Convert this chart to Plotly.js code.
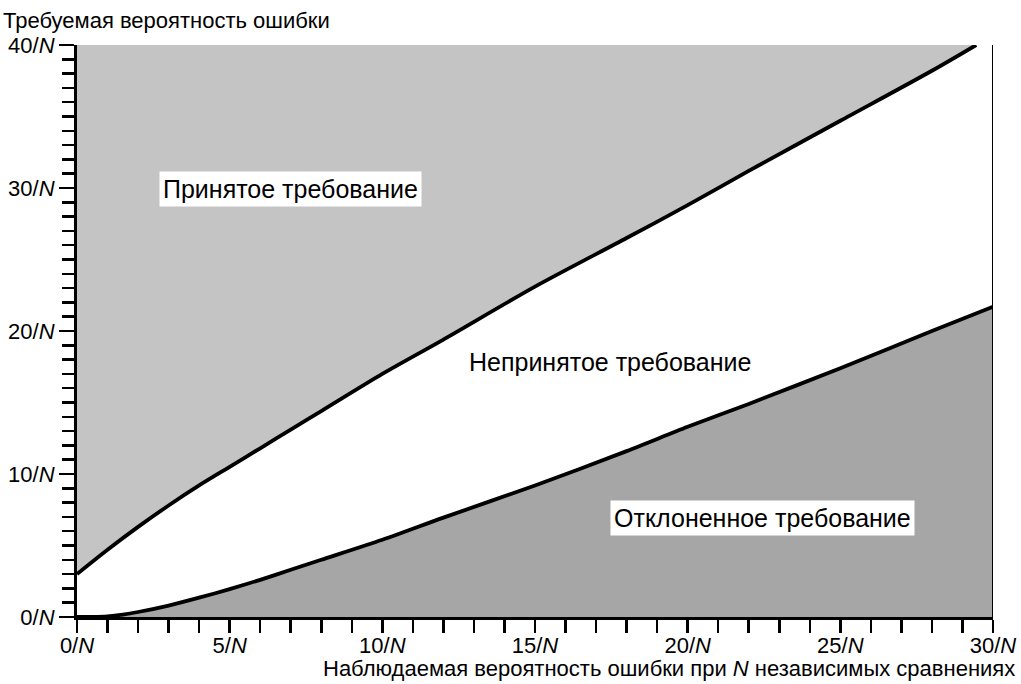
<!DOCTYPE html>
<html>
<head>
<meta charset="utf-8">
<script src="https://cdn.plot.ly/plotly-3.0.1.min.js"></script>
<style>html,body{margin:0;padding:0;background:#fff;}#chart{width:1021px;height:684px;}</style>
</head>
<body>
<div id="chart"></div>
<script>
// Observed error probability (in units of 1/N)
const upperX = [0, 1, 2, 3, 4, 5, 6, 7, 8, 10, 12, 15, 18, 20, 22, 25, 28, 29.45];
// Upper bound curve: above it = accepted requirement
const upperY = [3.0, 4.7, 6.3, 7.8, 9.2, 10.5, 11.8, 13.1, 14.4, 17.0, 19.4, 23.1, 26.5, 28.8, 31.2, 34.7, 38.2, 40.0];
const lowerX = [0, 0.5, 1, 1.5, 2, 3, 4, 5, 6, 7, 8, 10, 12, 15, 18, 20, 22, 25, 28, 30];
// Lower bound curve: below it = rejected requirement
const lowerY = [0, 0.01, 0.05, 0.17, 0.35, 0.8, 1.35, 1.95, 2.6, 3.3, 4.0, 5.4, 6.95, 9.2, 11.6, 13.3, 14.9, 17.4, 20.0, 21.7];

const xTickVals = [0, 5, 10, 15, 20, 25, 30];
const xTickText = ['0/<i>N</i>', '5/<i>N</i>', '10/<i>N</i>', '15/<i>N</i>', '20/<i>N</i>', '25/<i>N</i>', '30/<i>N</i>'];
const yTickVals = [0, 10, 20, 30, 40];
const yTickText = ['0/<i>N</i>', '10/<i>N</i>', '20/<i>N</i>', '30/<i>N</i>', '40/<i>N</i>'];

const regionLabels = ['Принятое требование', 'Непринятое требование', 'Отклоненное требование'];
const yTitle = 'Требуемая вероятность ошибки';
const xTitle = 'Наблюдаемая вероятность ошибки при <i>N</i> независимых сравнениях';

const FONT = 'Liberation Sans, Arial, sans-serif';
const LIGHT = '#c4c4c4';
const DARK = '#a6a6a6';

const traces = [
  {x: [upperX[0], upperX[upperX.length - 1]], y: [40, 40], mode: 'lines', line: {width: 0, color: LIGHT}, hoverinfo: 'skip', showlegend: false},
  {x: upperX, y: upperY, mode: 'lines', fill: 'tonexty', fillcolor: LIGHT, line: {color: '#000', width: 3.8, shape: 'spline', smoothing: 0.8}, showlegend: false},
  {x: lowerX, y: lowerY, mode: 'lines', fill: 'tozeroy', fillcolor: DARK, line: {color: '#000', width: 3.8, shape: 'spline', smoothing: 0.8}, showlegend: false}
];

const layout = {
  width: 1021, height: 684,
  margin: {l: 77, r: 28, t: 45, b: 67},
  paper_bgcolor: '#fff', plot_bgcolor: '#fff',
  font: {family: FONT, color: '#000', size: 22},
  showlegend: false,
  title: {text: yTitle, x: 3 / 1021, xanchor: 'left', xref: 'container', y: 1 - 20 / 684, yanchor: 'middle', yref: 'container', font: {family: FONT, size: 22, color: '#000'}},
  xaxis: {
    range: [0, 30], showgrid: false, zeroline: false,
    showline: true, linecolor: '#000', linewidth: 3,
    tickvals: xTickVals, ticktext: xTickText,
    ticks: 'outside', ticklen: 13, tickwidth: 2.5, tickcolor: '#000',
    ticklabelstandoff: -6,
    minor: {dtick: 1, tick0: 0, ticks: 'outside', ticklen: 13, tickwidth: 2.5, tickcolor: '#000', showgrid: false},
    tickfont: {family: FONT, size: 22}
  },
  yaxis: {
    range: [0, 40], showgrid: false, zeroline: false,
    showline: true, linecolor: '#000', linewidth: 3,
    tickvals: yTickVals, ticktext: yTickText,
    ticks: 'outside', ticklen: 15, tickwidth: 2.5, tickcolor: '#000',
    minor: {dtick: 1, tick0: 0, ticks: 'outside', ticklen: 12, tickwidth: 2.5, tickcolor: '#000', showgrid: false},
    tickfont: {family: FONT, size: 22}
  },
  shapes: [
    {type: 'line', xref: 'x', yref: 'y', x0: 30, x1: 30, y0: 0, y1: 40, line: {color: '#000', width: 2}}
  ],
  annotations: [
    {x: 6.98, y: 29.9, xref: 'x', yref: 'y', text: regionLabels[0], showarrow: false, bgcolor: '#fff', borderpad: 3, font: {family: FONT, size: 25, color: '#000'}},
    {x: 17.45, y: 17.8, xref: 'x', yref: 'y', text: regionLabels[1], showarrow: false, font: {family: FONT, size: 25, color: '#000'}},
    {x: 22.45, y: 6.9, xref: 'x', yref: 'y', text: regionLabels[2], showarrow: false, bgcolor: '#fff', borderpad: 3, font: {family: FONT, size: 25, color: '#000'}},
    {x: (1017 - 77) / 916, y: (617 - 668) / 572, xref: 'paper', yref: 'paper', xanchor: 'right', yanchor: 'middle', text: xTitle, showarrow: false, font: {family: FONT, size: 22, color: '#000'}}
  ]
};

Plotly.newPlot('chart', traces, layout, {displayModeBar: false, staticPlot: true});
</script>
</body>
</html>
